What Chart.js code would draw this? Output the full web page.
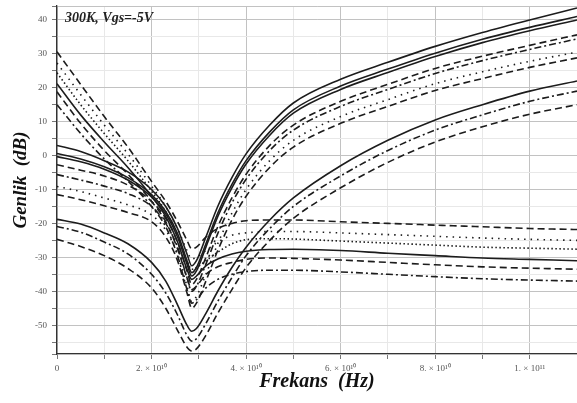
<!DOCTYPE html>
<html><head><meta charset="utf-8">
<script src="https://cdn.jsdelivr.net/npm/chart.js@4.4.1/dist/chart.umd.min.js"></script>
<style>
html,body{margin:0;padding:0;background:#fff;}
#wrap{position:relative;width:577px;height:403px;overflow:hidden;}
#note{position:absolute;left:65px;top:10px;font:italic bold 14px "Liberation Serif","DejaVu Serif",serif;color:#222;white-space:nowrap;}
</style></head><body>
<div id="wrap"><canvas id="c" width="577" height="403"></canvas><div id="note">300K, Vgs=-5V</div></div>
<script>
// Frequencies (Hz)
const frequencies = [0,0.5e10,1e10,1.5e10,2e10,2.3e10,2.55e10,2.75e10,2.85e10,2.95e10,3.15e10,3.4e10,3.7e10,4e10,4.5e10,5e10,6e10,7e10,8e10,9e10,10e10,11e10];
// Magnitudes (dB)
const a1 = [3,1.2,-1.5,-4.8,-10,-15,-21.5,-29,-32.5,-31,-24,-15,-6.5,0.5,9,15.5,22.5,27.5,32.2,36.3,40,43.5];
const a2 = [0.6,-1,-3.3,-6.5,-11.5,-16.5,-23,-31,-34.5,-33,-26,-17,-8.5,-1.5,7,13.5,20.5,25.5,30.2,34.3,37.8,41];
const a3 = [-0.3,-1.8,-4,-7.2,-12.2,-17.2,-24,-32,-35.5,-34,-27,-18,-9.5,-2.5,6,12.5,19.5,24.5,29.2,33.3,36.8,40];
const a4 = [-2.7,-4.3,-6,-8.7,-13.5,-18.5,-25.5,-34,-38,-36.5,-30,-21,-12.5,-5.5,3,9,16,21,25.7,29.3,32.5,35.6];
const a5 = [-5.6,-7.2,-9,-11.2,-15,-20,-27,-36,-40,-38.5,-32,-23,-14,-7,1.5,7.5,14.5,19.5,24.2,28,31.3,34.4];
const a6 = [-9.1,-10.6,-12.5,-14.5,-17.5,-22,-29,-38.5,-43,-41.5,-35,-26,-17,-10,-1.5,4.5,11.5,16.5,21.2,24.7,27.8,30.5];
const a7 = [-11.5,-13,-14.8,-16.8,-19.5,-24,-31,-40.5,-45,-43.5,-37,-28,-19,-12,-3.5,2.5,9.5,14.5,19.2,22.7,26,28.8];
const b1 = [30.6,21,11.5,2.5,-7.6,-13.5,-19.5,-25,-27.5,-27,-24,-21.5,-20,-19.2,-19,-19,-19.5,-20,-20.5,-21,-21.5,-21.8];
const b2 = [27.3,18,9,0.5,-9,-15,-21.5,-28,-30.5,-30,-28,-25.5,-23.5,-22.8,-22.4,-22.4,-22.8,-23.3,-23.8,-24.3,-24.7,-25];
const b3 = [24.4,15,6.5,-1.5,-10.5,-16.5,-23.5,-31,-33.5,-33,-31,-28.5,-26,-24.8,-24.5,-24.6,-25.2,-25.8,-26.4,-27,-27.3,-27.6];
const b4 = [21.2,12,4,-3.5,-12,-18,-25.5,-33.5,-36.5,-35.5,-32.5,-30.5,-29,-28.2,-27.7,-27.6,-28,-28.8,-29.5,-30.2,-30.6,-31];
const b5 = [18.8,9.5,1.5,-5.5,-13.5,-19.5,-27.5,-36,-39.5,-38.5,-35,-32.8,-31.5,-30.6,-30.2,-30.3,-30.8,-31.5,-32.2,-32.8,-33.2,-33.5];
const b6 = [15,6.5,-1,-7.5,-15,-21,-29.5,-39.5,-43.5,-42.5,-39,-36.5,-35,-34.2,-33.8,-33.8,-34.3,-35,-35.7,-36.3,-36.7,-37];
const l1 = [-18.8,-20.2,-22.8,-26,-31.5,-37,-44,-50,-51.8,-51,-46.5,-40,-33,-27,-19,-12.5,-3,4.5,10.5,15,19,22];
const l2 = [-20.9,-22.6,-25.5,-29,-35,-40.5,-47,-53,-54.7,-54,-49.5,-43,-36,-29.5,-21.5,-15,-6,1.5,7.5,12,16,19];
const l3 = [-24.7,-26.8,-29.5,-33.3,-39,-45,-51.5,-56.5,-57.6,-57,-53,-46.5,-39.5,-33,-25,-18.5,-9.5,-2,4,8.5,12.2,15];
// Tick labels
const xTickValues = [0,2e10,4e10,6e10,8e10,1e11];
const xTickLabels = ['0','2. \u00d7 10\u00b9\u2070','4. \u00d7 10\u00b9\u2070','6. \u00d7 10\u00b9\u2070','8. \u00d7 10\u00b9\u2070','1. \u00d7 10\u00b9\u00b9'];
const yTickValues = [-50,-40,-30,-20,-10,0,10,20,30,40];
const yTickLabels = ['-50','-40','-30','-20','-10','0','10','20','30','40'];

const DASH = {solid:[], dashed:[7,4], dotted:[1.5,5], dense:[1.5,2.5], dashdot:[7,3,2,3]};
const series = [
  [a1,'solid'],[a2,'solid'],[a3,'solid'],[a4,'dashed'],[a5,'dashdot'],[a6,'dotted'],[a7,'dashed'],
  [b1,'dashed'],[b2,'dotted'],[b3,'dense'],[b4,'solid'],[b5,'dashed'],[b6,'dashdot'],
  [l1,'solid'],[l2,'dashdot'],[l3,'dashed']
];
const datasets = series.map(([arr,st]) => ({
  data: frequencies.map((f,i)=>({x:f,y:arr[i]})),
  borderColor:'#1c1c1c', borderWidth:1.6, borderDash:DASH[st],
  pointRadius:0, fill:false, cubicInterpolationMode:'monotone'
}));

function findLabel(vals, labels, v, tol){
  for (let i=0;i<vals.length;i++) if (Math.abs(vals[i]-v) < tol) return labels[i];
  return '';
}
function isMajorX(v){ return findLabel(xTickValues, xTickLabels, v, 1e8) !== ''; }
function isMajorY(v){ return findLabel(yTickValues, yTickLabels, v, 1e-6) !== ''; }

new Chart(document.getElementById('c'), {
  type:'line',
  data:{datasets},
  options:{
    responsive:false, animation:false, devicePixelRatio:1,
    layout:{padding:{top:6,right:0,left:0,bottom:0}},
    plugins:{legend:{display:false}, tooltip:{enabled:false}},
    scales:{
      x:{type:'linear', min:0, max:1.1e11,
        ticks:{stepSize:1e10, autoSkip:false, maxRotation:0, color:'#555',
          font:{family:'Liberation Serif', size:9}, padding:4,
          callback:(v)=>findLabel(xTickValues, xTickLabels, v, 1e8)},
        grid:{color:(c)=> isMajorX(c.tick.value) ? '#c2c2c2' : '#e8e8e8', tickLength:5,
          tickColor:'#777'},
        border:{color:'#333', width:1.3},
        title:{display:true, text:'Frekans  (Hz)', color:'#111',
          font:{family:'Liberation Serif', size:20, style:'italic', weight:'bold'},
          padding:{top:0,bottom:9}},
        afterFit:(s)=>{ s.height = 49; s.paddingRight = 0; s.paddingLeft = 0; }
      },
      y:{type:'linear', min:-58.5, max:44.1,
        ticks:{stepSize:5, autoSkip:false, color:'#555',
          font:{family:'Liberation Serif', size:9}, padding:5,
          callback:(v)=>findLabel(yTickValues, yTickLabels, v, 1e-6)},
        grid:{color:(c)=> (isMajorY(c.tick.value) || Math.abs(c.tick.value-44.1)<0.01) ? '#c2c2c2' : '#e8e8e8', tickLength:5,
          tickColor:'#777'},
        border:{color:'#333', width:1.3},
        title:{display:true, text:'Genlik  (dB)', color:'#111',
          font:{family:'Liberation Serif', size:19, style:'italic', weight:'bold'},
          padding:{top:10,bottom:0}},
        afterFit:(s)=>{ s.width = 57; s.paddingTop = 0; s.paddingBottom = 0; }
      }
    }
  }
});
</script>
</body></html>
